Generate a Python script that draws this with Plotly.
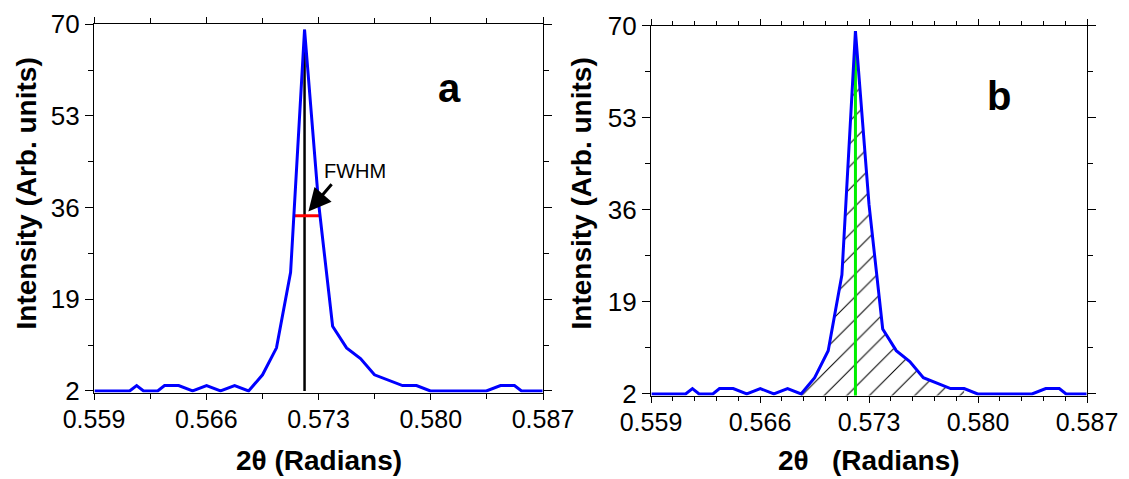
import numpy as np
import plotly.graph_objects as go

# ---------------- data ----------------
two_theta = [0.55904, 0.55991, 0.56122, 0.56166, 0.56209, 0.56297, 0.56340, 0.56428,
             0.56515, 0.56602, 0.56689, 0.56777, 0.56864, 0.56951, 0.57038, 0.57126,
             0.57213, 0.57300, 0.57388, 0.57475, 0.57562, 0.57649, 0.57737, 0.57824,
             0.57911, 0.57998, 0.58347, 0.58435, 0.58522, 0.58566, 0.58697]
intensity = [2, 2, 2, 3, 2, 2, 3, 3,
             2, 3, 2, 3, 2, 5, 10, 24,
             69, 37, 14, 10, 8, 5, 4, 3,
             3, 2, 2, 3, 3, 2, 2]

x_tick_vals = [0.559, 0.566, 0.573, 0.580, 0.587]
x_tick_text = ["0.559", "0.566", "0.573", "0.580", "0.587"]
y_tick_vals = [2, 19, 36, 53, 70]
y_tick_text = ["2", "19", "36", "53", "70"]

area_lo, area_hi = 0.56864, 0.57911   # integrated (hatched) region in panel b

# ---------------- derived quantities ----------------
x = np.array(two_theta)
y = np.array(intensity, dtype=float)
ip = int(np.argmax(y))
x_peak, y_peak = x[ip], y[ip]
half = y_peak / 2.0
j = ip
while y[j - 1] >= half:
    j -= 1
xl = np.interp(half, [y[j - 1], y[j]], [x[j - 1], x[j]])
k = ip
while y[k + 1] >= half:
    k += 1
xr = np.interp(half, [y[k + 1], y[k]], [x[k + 1], x[k]])

mask = (x >= area_lo - 1e-9) & (x <= area_hi + 1e-9)

FONT = "Arial, Liberation Sans, sans-serif"
BLUE = "#0000ff"
W, H = 1129, 479

fig = go.Figure()

# ---- panel a ----
fig.add_trace(go.Scatter(x=[x_peak, x_peak], y=[y_tick_vals[0], y_peak], mode="lines",
                         line=dict(color="black", width=2.5), xaxis="x", yaxis="y",
                         showlegend=False, hoverinfo="skip"))
fig.add_trace(go.Scatter(x=[xl, xr], y=[half, half], mode="lines",
                         line=dict(color="#ff0000", width=3), xaxis="x", yaxis="y",
                         showlegend=False, hoverinfo="skip"))
fig.add_trace(go.Scatter(x=two_theta, y=intensity, mode="lines",
                         line=dict(color=BLUE, width=3), xaxis="x", yaxis="y",
                         showlegend=False))

# ---- panel b ----
fig.add_trace(go.Scatter(x=x[mask], y=y[mask], mode="lines", fill="tozeroy",
                         line=dict(width=0, color="rgba(0,0,0,0)"),
                         fillcolor="rgba(0,0,0,0)",
                         fillpattern=dict(shape="/", size=16, solidity=0.065,
                                          fgcolor="black", fgopacity=1,
                                          bgcolor="rgba(0,0,0,0)"),
                         xaxis="x2", yaxis="y2", showlegend=False, hoverinfo="skip"))
fig.add_trace(go.Scatter(x=[x_peak, x_peak], y=[y_tick_vals[0] - 1, y_peak], mode="lines",
                         line=dict(color="#00ee00", width=3), xaxis="x2", yaxis="y2",
                         showlegend=False, hoverinfo="skip"))
fig.add_trace(go.Scatter(x=two_theta, y=intensity, mode="lines",
                         line=dict(color=BLUE, width=3), xaxis="x2", yaxis="y2",
                         showlegend=False))


def px_x(p):
    return p / W


def px_y(p):
    return 1 - p / H


ymin = 1.72
common_x = dict(range=[0.559, 0.587], tickmode="array", tickvals=x_tick_vals,
                ticktext=x_tick_text, ticks="outside", ticklen=6, tickwidth=1.3,
                tickcolor="black", showline=True, linecolor="black", linewidth=1.3,
                mirror="ticks", showgrid=False, zeroline=False, automargin=False,
                ticklabelstandoff=-2,
                tickfont=dict(family=FONT, size=25, color="black"))
common_y = dict(range=[ymin, 70], tickmode="array", tickvals=y_tick_vals,
                ticktext=y_tick_text, ticks="outside", ticklen=8, tickwidth=1.3,
                tickcolor="black", showline=True, linecolor="black", linewidth=1.3,
                mirror="ticks", showgrid=False, zeroline=False, automargin=False,
                tickfont=dict(family=FONT, size=26, color="black"),
                minor=dict(tick0=2, dtick=8.5, ticks="outside", ticklen=5,
                           tickcolor="black", tickwidth=1.2))
# inside ticks on the right edge so that the right-hand ticks cross the frame
right_in = dict(range=[ymin, 70], tickmode="array", tickvals=y_tick_vals,
                ticks="inside", ticklen=6, tickwidth=1.3, tickcolor="black",
                showticklabels=False, showline=False, showgrid=False, zeroline=False,
                automargin=False, side="right",
                minor=dict(tick0=2, dtick=8.5, ticks="inside", ticklen=5,
                           tickcolor="black", tickwidth=1.2))

fig.update_layout(
    width=W, height=H, margin=dict(l=0, r=0, t=0, b=0, autoexpand=False),
    paper_bgcolor="white", plot_bgcolor="white",
    xaxis=dict(common_x, domain=[px_x(94), px_x(543)], anchor="y",
               minor=dict(tick0=0.559, dtick=0.0035, ticks="outside", ticklen=5,
                          tickcolor="black", tickwidth=1.2)),
    yaxis=dict(common_y, domain=[px_y(392.5), px_y(24.3)], anchor="x"),
    yaxis3=dict(right_in, overlaying="y", anchor="x"),
    xaxis2=dict(common_x, domain=[px_x(651), px_x(1087)], anchor="y2",
                minor=dict(tick0=0.559, dtick=0.0014, ticks="outside", ticklen=4,
                           tickcolor="black", tickwidth=1.2)),
    yaxis2=dict(common_y, domain=[px_y(395.5), px_y(25.7)], anchor="x2"),
    yaxis4=dict(right_in, overlaying="y2", anchor="x2"),
)

ann = []
ann.append(dict(text="<b>2θ (Radians)</b>", xref="paper", yref="paper",
                x=px_x(319), y=px_y(460), xanchor="center", yanchor="middle",
                showarrow=False, font=dict(family=FONT, size=28, color="black")))
ann.append(dict(text="<b>2θ   (Radians)</b>", xref="paper", yref="paper",
                x=px_x(869), y=px_y(460), xanchor="center", yanchor="middle",
                showarrow=False, font=dict(family=FONT, size=28, color="black")))
for xc in (26, 581):
    ann.append(dict(text="<b>Intensity (Arb. units)</b>", xref="paper", yref="paper",
                    x=px_x(xc), y=px_y(193.5), xanchor="center", yanchor="middle",
                    textangle=-90, showarrow=False,
                    font=dict(family=FONT, size=28, color="black")))
ann.append(dict(text="<b>a</b>", xref="paper", yref="paper", x=px_x(449), y=px_y(88),
                xanchor="center", yanchor="middle", showarrow=False,
                font=dict(family=FONT, size=40, color="black")))
ann.append(dict(text="<b>b</b>", xref="paper", yref="paper", x=px_x(998.5), y=px_y(96),
                xanchor="center", yanchor="middle", showarrow=False,
                font=dict(family=FONT, size=40, color="black")))
ann.append(dict(text="FWHM", xref="paper", yref="paper", x=px_x(355), y=px_y(171.4),
                xanchor="center", yanchor="middle", showarrow=False,
                font=dict(family=FONT, size=20, color="black")))
ann.append(dict(text="", xref="x", yref="y", x=0.57237, y=35.3,
                axref="x", ayref="y", ax=0.57390, ay=40.6, showarrow=True,
                arrowhead=2, arrowsize=1.5, arrowwidth=3, arrowcolor="black",
                standoff=0))
fig.update_layout(annotations=ann)

fig.write_html("out.html", config={"displayModeBar": False},
               post_script="document.body.style.margin='0';")
